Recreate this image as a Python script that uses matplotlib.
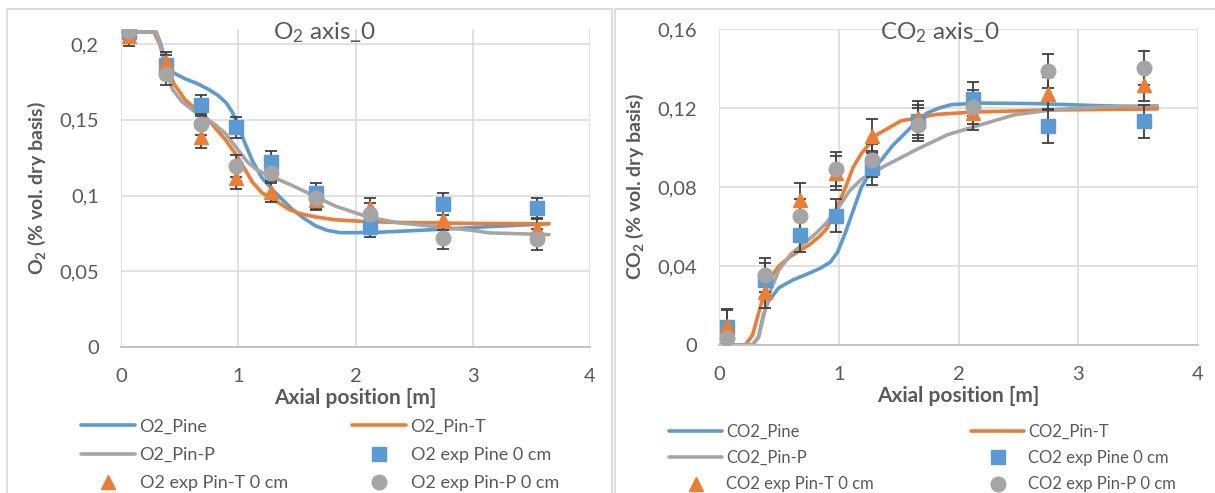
import matplotlib.pyplot as plt
from matplotlib.lines import Line2D
from matplotlib.ticker import FuncFormatter, MultipleLocator

plt.rcParams['font.family'] = ['Lato', 'DejaVu Sans']
plt.rcParams['mathtext.fontset'] = 'custom'
plt.rcParams['mathtext.rm'] = 'Lato'
plt.rcParams['mathtext.bf'] = 'Lato:bold'
plt.rcParams['mathtext.it'] = 'Lato:italic'

W, H = 1215, 493
BLUE, ORANGE, GRAY = '#5B9BD5', '#ED7D31', '#A5A5A5'
TXT = '#595959'

# ---- data -------------------------------------------------------------
exp_x = [0.07, 0.38, 0.68, 0.98, 1.28, 1.66, 2.12, 2.75, 3.55]

# O2 model curves
o2_pine_x = [0, 0.30, 0.34, 0.38, 0.45, 0.55, 0.65, 0.75, 0.83, 0.9, 0.95, 0.99, 1.05, 1.12,
             1.2, 1.29, 1.38, 1.46, 1.56, 1.66, 1.76, 1.87, 2.0, 2.2, 2.67, 3.15, 3.65]
o2_pine = [0.208, 0.208, 0.200, 0.187, 0.181, 0.177, 0.174, 0.170, 0.166, 0.161, 0.155, 0.148,
           0.136, 0.123, 0.112, 0.104, 0.097, 0.091, 0.085, 0.080, 0.077, 0.0755, 0.0755,
           0.0758, 0.0775, 0.0795, 0.0814]
o2_pint_x = [0, 0.28, 0.33, 0.38, 0.45, 0.55, 0.64, 0.72, 0.8, 0.89, 0.99, 1.06, 1.12, 1.2,
             1.33, 1.43, 1.53, 1.65, 1.83, 2.05, 2.34, 3.0, 3.65]
o2_pint = [0.208, 0.208, 0.200, 0.187, 0.174, 0.163, 0.157, 0.152, 0.145, 0.137, 0.126, 0.117,
           0.109, 0.102, 0.096, 0.091, 0.088, 0.086, 0.084, 0.083, 0.0823, 0.0816, 0.0814]
o2_pinp_x = [0, 0.30, 0.34, 0.38, 0.44, 0.52, 0.62, 0.72, 0.8, 0.89, 0.99, 1.08, 1.16, 1.25,
             1.33, 1.45, 1.6, 1.83, 2.1, 2.34, 2.67, 3.0, 3.15, 3.4, 3.65]
o2_pinp = [0.208, 0.208, 0.198, 0.184, 0.170, 0.162, 0.156, 0.151, 0.147, 0.141, 0.131, 0.122,
           0.117, 0.1135, 0.111, 0.107, 0.1015, 0.093, 0.086, 0.0823, 0.0796, 0.077, 0.0753,
           0.0748, 0.0742]

# O2 experiments
o2_exp_pine = [0.2077, 0.186, 0.1595, 0.145, 0.1223, 0.1015, 0.0795, 0.0945, 0.0917]
o2_exp_pint = [0.2055, 0.188, 0.1387, 0.1114, 0.1026, 0.0972, 0.0917, 0.084, 0.078]
o2_exp_pinp = [0.2088, 0.180, 0.147, 0.1195, 0.115, 0.0983, 0.088, 0.072, 0.071]
o2_err = [0.007, 0.007, 0.007, 0.007, 0.007, 0.007, 0.007, 0.007, 0.007]

# CO2 model curves
co2_pine_x = [0, 0.28, 0.33, 0.37, 0.41, 0.5, 0.62, 0.74, 0.85, 0.93, 0.99, 1.05, 1.12, 1.19,
              1.27, 1.36, 1.45, 1.55, 1.65, 1.74, 1.84, 1.94, 2.17, 2.66, 3.15, 3.66]
co2_pine = [0, 0, 0.004, 0.015, 0.022, 0.029, 0.033, 0.036, 0.039, 0.042, 0.047, 0.056, 0.068,
            0.080, 0.088, 0.094, 0.101, 0.107, 0.113, 0.1175, 0.120, 0.1217, 0.1225, 0.1222,
            0.1212, 0.1205]
co2_pint_x = [0, 0.22, 0.28, 0.33, 0.37, 0.43, 0.5, 0.6, 0.68, 0.76, 0.84, 0.9, 0.96, 1.06,
              1.12, 1.19, 1.32, 1.52, 1.82, 2.15, 2.8, 3.66]
co2_pint = [0, 0, 0.005, 0.016, 0.0245, 0.034, 0.040, 0.045, 0.048, 0.051, 0.055, 0.059, 0.066,
            0.0803, 0.090, 0.097, 0.1065, 0.1135, 0.1168, 0.118, 0.119, 0.1195]
co2_pinp_x = [0, 0.28, 0.33, 0.37, 0.42, 0.5, 0.6, 0.7, 0.8, 0.9, 0.99, 1.09, 1.19, 1.38,
              1.65, 1.91, 2.14, 2.47, 2.8, 3.2, 3.66]
co2_pinp = [0, 0, 0.004, 0.014, 0.026, 0.038, 0.046, 0.051, 0.056, 0.062, 0.069, 0.078, 0.084,
            0.0905, 0.099, 0.1065, 0.1107, 0.1166, 0.1192, 0.1205, 0.1212]

# CO2 experiments
co2_exp_pine = [0.0093, 0.033, 0.0558, 0.0655, 0.0896, 0.1132, 0.1246, 0.111, 0.1132]
co2_exp_pint = [0.0095, 0.027, 0.0736, 0.087, 0.1057, 0.115, 0.1175, 0.1273, 0.1318]
co2_exp_pinp = [0.0035, 0.0354, 0.0655, 0.0891, 0.0935, 0.1116, 0.1205, 0.1386, 0.1403]
co2_err = [0.0085, 0.0085, 0.0085, 0.0085, 0.0085, 0.0085, 0.0085, 0.0085, 0.0085]


def rect(x0, y0, x1, y1):
    return [x0 / W, 1 - y1 / H, (x1 - x0) / W, (y1 - y0) / H]


def comma(v, pos):
    return ('%g' % round(v, 3)).replace('.', ',')


fig = plt.figure(figsize=(W / 100, H / 100), dpi=100)

# panel frames (Excel chart areas)
for xs, ys in [([7, 7, 612, 612], [H, 9, 9, H]), ([615, 615, W], [H, 9, 9])]:
    fig.add_artist(Line2D([x / W for x in xs], [1 - y / H for y in ys],
                          color='#D9D9D9', lw=1.3, transform=fig.transFigure))


def panel(box, ymax, ystep, curves, exps, err, ylabel, title, title_xy,
          leg_pos, leg_fs):
    ax = fig.add_axes(rect(*box))
    ax.set_xlim(0, 4)
    ax.set_ylim(0, ymax)
    ax.xaxis.set_major_locator(MultipleLocator(1))
    ax.yaxis.set_major_locator(MultipleLocator(ystep))
    ax.yaxis.set_major_formatter(FuncFormatter(comma))
    ax.grid(True, color='#D9D9D9', lw=1.1)
    ax.set_axisbelow(True)
    for s in ['top', 'right', 'left']:
        ax.spines[s].set_visible(False)
    ax.spines['bottom'].set_color('#BFBFBF')
    ax.spines['bottom'].set_linewidth(1.3)
    ax.tick_params(length=0, labelsize=14.5, labelcolor=TXT)
    ax.tick_params(axis='y', pad=16)
    ax.tick_params(axis='x', pad=15)
    ax.set_xlabel('Axial position [m]', fontsize=15, fontweight='bold', color=TXT, labelpad=2)
    ax.set_ylabel(ylabel, fontsize=14, fontweight='bold', color=TXT, labelpad=8)

    lines = []
    for (cx, cy, col, lab) in curves:
        l, = ax.plot(cx, cy, color=col, lw=2.6, label=lab, solid_capstyle='round',
                     solid_joinstyle='round', zorder=2)
        lines.append(l)
    marks = []
    for (ey, col, mk, ms, lab) in exps:
        ax.errorbar(exp_x, ey, yerr=err, fmt='none', ecolor='#404040', elinewidth=1.3,
                    capsize=4.5, capthick=1.3, zorder=3)
        m, = ax.plot(exp_x, ey, ls='none', marker=mk, ms=ms, color=col, label=lab, zorder=4)
        marks.append(m)

    fig.text(title_xy[0] / W, 1 - title_xy[1] / H, title, fontsize=17.5, color=TXT,
             ha='center', va='center')

    col1 = [lines[0], lines[2], marks[1]]
    col2 = [lines[1], marks[0], marks[2]]
    fs_px = leg_fs * 100 / 72
    for hs, (lx, ly, hl_px, pitch) in zip([col1, col2], leg_pos):
        fig.legend(hs, [h.get_label() for h in hs], loc='center left',
                   bbox_to_anchor=(lx / W, 1 - ly / H), bbox_transform=fig.transFigure,
                   frameon=False, fontsize=leg_fs, labelcolor=TXT, borderpad=0,
                   borderaxespad=0, handlelength=hl_px / fs_px, handletextpad=0.25,
                   labelspacing=(pitch - 0.87 * fs_px) / fs_px, numpoints=1)
    return ax


panel((121, 29, 590, 347), 0.21, 0.05,
      [(o2_pine_x, o2_pine, BLUE, 'O2_Pine'),
       (o2_pint_x, o2_pint, ORANGE, 'O2_Pin-T'),
       (o2_pinp_x, o2_pinp, GRAY, 'O2_Pin-P')],
      [(o2_exp_pine, BLUE, 's', 10, 'O2 exp Pine 0 cm'),
       (o2_exp_pint, ORANGE, '^', 10, 'O2 exp Pin-T 0 cm'),
       (o2_exp_pinp, GRAY, 'o', 10.5, 'O2 exp Pin-P 0 cm')],
      o2_err, r'O$_\mathbf{2}$ (% vol. dry basis)', r'O$_2$ axis_0', (325, 33),
      [(81, 455, 54, 28), (352, 455, 54, 28)], 13)

panel((719, 29, 1198, 345), 0.16, 0.04,
      [(co2_pine_x, co2_pine, BLUE, 'CO2_Pine'),
       (co2_pint_x, co2_pint, ORANGE, 'CO2_Pin-T'),
       (co2_pinp_x, co2_pinp, GRAY, 'CO2_Pin-P')],
      [(co2_exp_pine, BLUE, 's', 10, 'CO2 exp Pine 0 cm'),
       (co2_exp_pint, ORANGE, '^', 10, 'CO2 exp Pin-T 0 cm'),
       (co2_exp_pinp, GRAY, 'o', 10.5, 'CO2 exp Pin-P 0 cm')],
      co2_err, r'CO$_\mathbf{2}$ (% vol. dry basis)', r'CO$_2$ axis_0', (940, 33),
      [(669, 458, 53, 25), (971, 458, 53, 25)], 12)

fig.savefig('out.png', dpi=100)
